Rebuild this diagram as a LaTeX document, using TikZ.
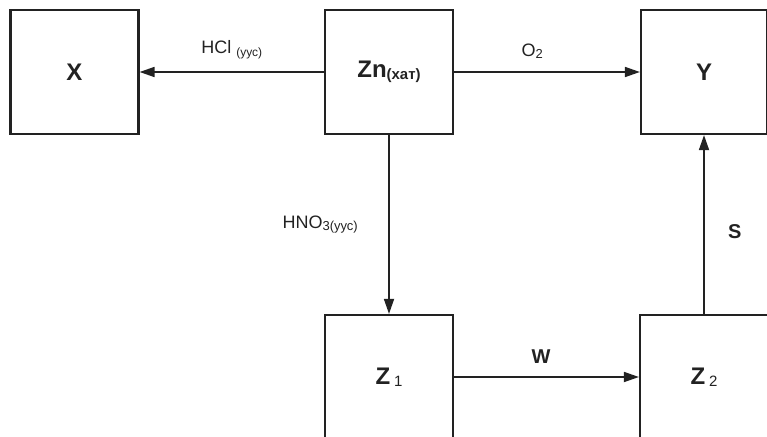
\documentclass[tikz,border=0pt]{standalone}
\usepackage{fontspec}
\setmainfont{Liberation Sans}
\usetikzlibrary{arrows.meta}
\definecolor{ink}{HTML}{222222}
\tikzset{
  box/.style={draw=ink, line width=2.2pt, minimum width=128pt, minimum height=124pt,
    inner sep=0pt, text=ink, font=\fontsize{24}{28}\selectfont\bfseries},
  arr/.style={->, line width=1.7pt, draw=ink},
  lbl/.style={text=ink, font=\fontsize{18}{21}\selectfont},
  blbl/.style={text=ink, font=\fontsize{20}{23}\selectfont\bfseries},
}
\newcommand{\lowsmall}[2][12]{\raisebox{-2.5pt}{\fontsize{#1}{#1}\selectfont #2}}
\begin{document}
\begin{tikzpicture}[x=1pt, y=-1pt, >={Triangle[length=15pt,width=10pt]}]
  \useasboundingbox (0,0) rectangle (767,436);
  \clip (0,0) rectangle (767,436);
  % boxes
  \node[box] (X) at (74.5,72) {X};
  \node[box] (Zn) at (389,72) {Zn\lowsmall[15]{(хат)}};
  \node[box, minimum width=126pt] (Y) at (704,72) {Y};
  \node[box] (Z1) at (389,377) {Z\,\lowsmall[15]{\mdseries 1}};
  \node[box] (Z2) at (704,377) {Z\,\lowsmall[15]{\mdseries 2}};
  % arrows
  \draw[arr] (Zn) -- node[lbl, above=9pt] {HCl \lowsmall{(уус)}} (X);
  \draw[arr] (Zn) -- node[lbl, above=9pt, pos=0.42] {O\lowsmall[13]{2}} (Y);
  \draw[arr] (Zn) -- node[lbl, left=27pt] {HNO\lowsmall[13]{3(уус)}} (Z1);
  \draw[arr] (Z1) -- node[blbl, above=9pt, pos=0.47] {W} (Z2);
  \draw[arr] (Z2) -- node[blbl, right=20pt, pos=0.46] {S} (Y);
\end{tikzpicture}
\end{document}
